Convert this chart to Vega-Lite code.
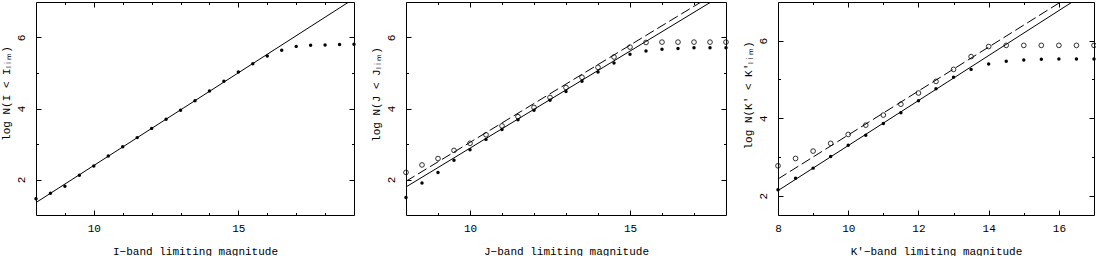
{
  "$schema": "https://vega.github.io/schema/vega-lite/v6.json",
  "padding": {"left": 0, "top": 1, "right": 0, "bottom": 0},
  "background": "white",
  "config": {
    "view": {"stroke": "black", "strokeWidth": 1},
    "axis": {"domain": false, "grid": false, "labelFont": "Liberation Mono", "titleFont": "Liberation Mono", "labelFontSize": 11, "titleFontSize": 11, "titleFontWeight": "normal", "labelColor": "black", "titleColor": "black", "tickColor": "black", "labelOverlap": false, "labelFlush": false}
  },
  "datasets": {
    "pts": [
      {"band": "I", "kind": "filled", "mag": 8, "logN": 1.46},
      {"band": "I", "kind": "filled", "mag": 8.5, "logN": 1.61},
      {"band": "I", "kind": "filled", "mag": 9, "logN": 1.81},
      {"band": "I", "kind": "filled", "mag": 9.5, "logN": 2.12},
      {"band": "I", "kind": "filled", "mag": 10, "logN": 2.38},
      {"band": "I", "kind": "filled", "mag": 10.5, "logN": 2.66},
      {"band": "I", "kind": "filled", "mag": 11, "logN": 2.92},
      {"band": "I", "kind": "filled", "mag": 11.5, "logN": 3.18},
      {"band": "I", "kind": "filled", "mag": 12, "logN": 3.44},
      {"band": "I", "kind": "filled", "mag": 12.5, "logN": 3.70},
      {"band": "I", "kind": "filled", "mag": 13, "logN": 3.95},
      {"band": "I", "kind": "filled", "mag": 13.5, "logN": 4.22},
      {"band": "I", "kind": "filled", "mag": 14, "logN": 4.49},
      {"band": "I", "kind": "filled", "mag": 14.5, "logN": 4.77},
      {"band": "I", "kind": "filled", "mag": 15, "logN": 5.03},
      {"band": "I", "kind": "filled", "mag": 15.5, "logN": 5.26},
      {"band": "I", "kind": "filled", "mag": 16, "logN": 5.48},
      {"band": "I", "kind": "filled", "mag": 16.5, "logN": 5.64},
      {"band": "I", "kind": "filled", "mag": 17, "logN": 5.75},
      {"band": "I", "kind": "filled", "mag": 17.5, "logN": 5.78},
      {"band": "I", "kind": "filled", "mag": 18, "logN": 5.79},
      {"band": "I", "kind": "filled", "mag": 18.5, "logN": 5.80},
      {"band": "I", "kind": "filled", "mag": 19, "logN": 5.81},
      {"band": "J", "kind": "filled", "mag": 8, "logN": 1.49},
      {"band": "J", "kind": "filled", "mag": 8.5, "logN": 1.90},
      {"band": "J", "kind": "filled", "mag": 9, "logN": 2.20},
      {"band": "J", "kind": "filled", "mag": 9.5, "logN": 2.54},
      {"band": "J", "kind": "filled", "mag": 10, "logN": 2.84},
      {"band": "J", "kind": "filled", "mag": 10.5, "logN": 3.13},
      {"band": "J", "kind": "filled", "mag": 11, "logN": 3.41},
      {"band": "J", "kind": "filled", "mag": 11.5, "logN": 3.68},
      {"band": "J", "kind": "filled", "mag": 12, "logN": 3.95},
      {"band": "J", "kind": "filled", "mag": 12.5, "logN": 4.23},
      {"band": "J", "kind": "filled", "mag": 13, "logN": 4.48},
      {"band": "J", "kind": "filled", "mag": 13.5, "logN": 4.77},
      {"band": "J", "kind": "filled", "mag": 14, "logN": 5.03},
      {"band": "J", "kind": "filled", "mag": 14.5, "logN": 5.28},
      {"band": "J", "kind": "filled", "mag": 15, "logN": 5.53},
      {"band": "J", "kind": "filled", "mag": 15.5, "logN": 5.62},
      {"band": "J", "kind": "filled", "mag": 16, "logN": 5.67},
      {"band": "J", "kind": "filled", "mag": 16.5, "logN": 5.69},
      {"band": "J", "kind": "filled", "mag": 17, "logN": 5.71},
      {"band": "J", "kind": "filled", "mag": 17.5, "logN": 5.71},
      {"band": "J", "kind": "filled", "mag": 18, "logN": 5.71},
      {"band": "J", "kind": "open", "mag": 8, "logN": 2.20},
      {"band": "J", "kind": "open", "mag": 8.5, "logN": 2.41},
      {"band": "J", "kind": "open", "mag": 9, "logN": 2.59},
      {"band": "J", "kind": "open", "mag": 9.5, "logN": 2.82},
      {"band": "J", "kind": "open", "mag": 10, "logN": 3.02},
      {"band": "J", "kind": "open", "mag": 10.5, "logN": 3.26},
      {"band": "J", "kind": "open", "mag": 11, "logN": 3.51},
      {"band": "J", "kind": "open", "mag": 11.5, "logN": 3.77},
      {"band": "J", "kind": "open", "mag": 12, "logN": 4.03},
      {"band": "J", "kind": "open", "mag": 12.5, "logN": 4.31},
      {"band": "J", "kind": "open", "mag": 13, "logN": 4.59},
      {"band": "J", "kind": "open", "mag": 13.5, "logN": 4.88},
      {"band": "J", "kind": "open", "mag": 14, "logN": 5.16},
      {"band": "J", "kind": "open", "mag": 14.5, "logN": 5.45},
      {"band": "J", "kind": "open", "mag": 15, "logN": 5.73},
      {"band": "J", "kind": "open", "mag": 15.5, "logN": 5.86},
      {"band": "J", "kind": "open", "mag": 16, "logN": 5.87},
      {"band": "J", "kind": "open", "mag": 16.5, "logN": 5.87},
      {"band": "J", "kind": "open", "mag": 17, "logN": 5.87},
      {"band": "J", "kind": "open", "mag": 17.5, "logN": 5.87},
      {"band": "J", "kind": "open", "mag": 18, "logN": 5.87},
      {"band": "K", "kind": "filled", "mag": 8, "logN": 2.15},
      {"band": "K", "kind": "filled", "mag": 8.5, "logN": 2.45},
      {"band": "K", "kind": "filled", "mag": 9, "logN": 2.71},
      {"band": "K", "kind": "filled", "mag": 9.5, "logN": 3.01},
      {"band": "K", "kind": "filled", "mag": 10, "logN": 3.30},
      {"band": "K", "kind": "filled", "mag": 10.5, "logN": 3.56},
      {"band": "K", "kind": "filled", "mag": 11, "logN": 3.86},
      {"band": "K", "kind": "filled", "mag": 11.5, "logN": 4.14},
      {"band": "K", "kind": "filled", "mag": 12, "logN": 4.45},
      {"band": "K", "kind": "filled", "mag": 12.5, "logN": 4.76},
      {"band": "K", "kind": "filled", "mag": 13, "logN": 5.06},
      {"band": "K", "kind": "filled", "mag": 13.5, "logN": 5.26},
      {"band": "K", "kind": "filled", "mag": 14, "logN": 5.40},
      {"band": "K", "kind": "filled", "mag": 14.5, "logN": 5.47},
      {"band": "K", "kind": "filled", "mag": 15, "logN": 5.50},
      {"band": "K", "kind": "filled", "mag": 15.5, "logN": 5.52},
      {"band": "K", "kind": "filled", "mag": 16, "logN": 5.53},
      {"band": "K", "kind": "filled", "mag": 16.5, "logN": 5.53},
      {"band": "K", "kind": "filled", "mag": 17, "logN": 5.53},
      {"band": "K", "kind": "open", "mag": 8, "logN": 2.77},
      {"band": "K", "kind": "open", "mag": 8.5, "logN": 2.96},
      {"band": "K", "kind": "open", "mag": 9, "logN": 3.15},
      {"band": "K", "kind": "open", "mag": 9.5, "logN": 3.35},
      {"band": "K", "kind": "open", "mag": 10, "logN": 3.58},
      {"band": "K", "kind": "open", "mag": 10.5, "logN": 3.82},
      {"band": "K", "kind": "open", "mag": 11, "logN": 4.08},
      {"band": "K", "kind": "open", "mag": 11.5, "logN": 4.36},
      {"band": "K", "kind": "open", "mag": 12, "logN": 4.65},
      {"band": "K", "kind": "open", "mag": 12.5, "logN": 4.95},
      {"band": "K", "kind": "open", "mag": 13, "logN": 5.26},
      {"band": "K", "kind": "open", "mag": 13.5, "logN": 5.59},
      {"band": "K", "kind": "open", "mag": 14, "logN": 5.85},
      {"band": "K", "kind": "open", "mag": 14.5, "logN": 5.88},
      {"band": "K", "kind": "open", "mag": 15, "logN": 5.88},
      {"band": "K", "kind": "open", "mag": 15.5, "logN": 5.88},
      {"band": "K", "kind": "open", "mag": 16, "logN": 5.88},
      {"band": "K", "kind": "open", "mag": 16.5, "logN": 5.88},
      {"band": "K", "kind": "open", "mag": 17, "logN": 5.88}
    ],
    "fits": [
      {"band": "I", "style": "solid", "mag": 8, "logN": 1.35},
      {"band": "I", "style": "solid", "mag": 18.82, "logN": 7},
      {"band": "J", "style": "solid", "mag": 8, "logN": 1.79},
      {"band": "J", "style": "solid", "mag": 17.53, "logN": 7},
      {"band": "J", "style": "dashed", "mag": 8, "logN": 1.95},
      {"band": "J", "style": "dashed", "mag": 17.22, "logN": 7},
      {"band": "K", "style": "solid", "mag": 8, "logN": 2.13},
      {"band": "K", "style": "solid", "mag": 16.38, "logN": 7},
      {"band": "K", "style": "dashed", "mag": 8, "logN": 2.43},
      {"band": "K", "style": "dashed", "mag": 16.05, "logN": 7}
    ]
  },
  "hconcat": [
    {
      "width": 318, "height": 213,
      "layer": [
        {
          "data": {"name": "pts"},
          "transform": [{"filter": "datum.band === 'I'"}],
          "mark": {"type": "circle", "size": 12, "color": "black", "opacity": 1},
          "encoding": {
            "x": {"field": "mag", "type": "quantitative", "scale": {"domain": [8, 19], "nice": false, "zero": false},
              "axis": {"orient": "bottom", "values": [9, 10, 11, 12, 13, 14, 15, 16, 17, 18], "labelExpr": "datum.value % 5 === 0 ? datum.label : ''", "tickSize": {"condition": {"test": "datum.value % 5 === 0", "value": -5}, "value": -2.5}, "labelPadding": 12, "title": "I\u2212band limiting magnitude", "titlePadding": 10}},
            "y": {"field": "logN", "type": "quantitative", "scale": {"domain": [1, 7], "nice": false, "zero": false},
              "axis": {"orient": "left", "values": [2, 3, 4, 5, 6], "labelExpr": "datum.value % 2 === 0 ? datum.label : ''", "tickSize": {"condition": {"test": "datum.value % 2 === 0", "value": -5}, "value": -2.5}, "labelAngle": -90, "labelAlign": "center", "labelBaseline": "bottom", "labelPadding": 15, "title": "log N(I < I\u2097\u1d62\u2098)", "titlePadding": 1, "titleY": 91}}
          }
        },
        {
          "data": {"name": "fits"},
          "transform": [{"filter": "datum.band === 'I'"}],
          "mark": {"type": "line", "color": "black", "strokeWidth": 1, "clip": true},
          "encoding": {
            "x": {"field": "mag", "type": "quantitative", "axis": {"orient": "top", "values": [9, 10, 11, 12, 13, 14, 15, 16, 17, 18], "labels": false, "title": null, "tickSize": {"condition": {"test": "datum.value % 5 === 0", "value": -5}, "value": -2.5}}},
            "y": {"field": "logN", "type": "quantitative", "axis": {"orient": "right", "values": [2, 3, 4, 5, 6], "labels": false, "title": null, "tickSize": {"condition": {"test": "datum.value % 2 === 0", "value": -5}, "value": -2.5}}}
          }
        }
      ],
      "resolve": {"axis": {"x": "independent", "y": "independent"}}
    },
    {
      "width": 320, "height": 213,
      "layer": [
        {
          "data": {"name": "pts"},
          "transform": [{"filter": "datum.band === 'J' && datum.kind === 'filled'"}],
          "mark": {"type": "circle", "size": 12, "color": "black", "opacity": 1},
          "encoding": {
            "x": {"field": "mag", "type": "quantitative", "scale": {"domain": [8, 18], "nice": false, "zero": false},
              "axis": {"orient": "bottom", "values": [9, 10, 11, 12, 13, 14, 15, 16, 17], "labelExpr": "datum.value % 5 === 0 ? datum.label : ''", "tickSize": {"condition": {"test": "datum.value % 5 === 0", "value": -5}, "value": -2.5}, "labelPadding": 12, "title": "J\u2212band limiting magnitude", "titlePadding": 10}},
            "y": {"field": "logN", "type": "quantitative", "scale": {"domain": [1, 7], "nice": false, "zero": false},
              "axis": {"orient": "left", "values": [2, 3, 4, 5, 6], "labelExpr": "datum.value % 2 === 0 ? datum.label : ''", "tickSize": {"condition": {"test": "datum.value % 2 === 0", "value": -5}, "value": -2.5}, "labelAngle": -90, "labelAlign": "center", "labelBaseline": "bottom", "labelPadding": 15, "title": "log N(J < J\u2097\u1d62\u2098)", "titlePadding": 1, "titleY": 92}}
          }
        },
        {
          "data": {"name": "pts"},
          "transform": [{"filter": "datum.band === 'J' && datum.kind === 'open'"}],
          "mark": {"type": "point", "shape": "circle", "size": 22, "filled": false, "color": "black", "strokeWidth": 0.8, "opacity": 1},
          "encoding": {
            "x": {"field": "mag", "type": "quantitative", "axis": null},
            "y": {"field": "logN", "type": "quantitative", "axis": null}
          }
        },
        {
          "data": {"name": "fits"},
          "transform": [{"filter": "datum.band === 'J' && datum.style === 'solid'"}],
          "mark": {"type": "line", "color": "black", "strokeWidth": 1, "clip": true},
          "encoding": {
            "x": {"field": "mag", "type": "quantitative", "axis": {"orient": "top", "values": [9, 10, 11, 12, 13, 14, 15, 16, 17], "labels": false, "title": null, "tickSize": {"condition": {"test": "datum.value % 5 === 0", "value": -5}, "value": -2.5}}},
            "y": {"field": "logN", "type": "quantitative", "axis": {"orient": "right", "values": [2, 3, 4, 5, 6], "labels": false, "title": null, "tickSize": {"condition": {"test": "datum.value % 2 === 0", "value": -5}, "value": -2.5}}}
          }
        },
        {
          "data": {"name": "fits"},
          "transform": [{"filter": "datum.band === 'J' && datum.style === 'dashed'"}],
          "mark": {"type": "line", "color": "black", "strokeWidth": 1, "strokeDash": [10, 4], "clip": true},
          "encoding": {
            "x": {"field": "mag", "type": "quantitative", "axis": null},
            "y": {"field": "logN", "type": "quantitative", "axis": null}
          }
        }
      ],
      "resolve": {"axis": {"x": "independent", "y": "independent"}}
    },
    {
      "width": 316, "height": 213,
      "layer": [
        {
          "data": {"name": "pts"},
          "transform": [{"filter": "datum.band === 'K' && datum.kind === 'filled'"}],
          "mark": {"type": "circle", "size": 12, "color": "black", "opacity": 1},
          "encoding": {
            "x": {"field": "mag", "type": "quantitative", "scale": {"domain": [8, 17], "nice": false, "zero": false},
              "axis": {"orient": "bottom", "values": [8, 9, 10, 11, 12, 13, 14, 15, 16], "labelExpr": "datum.value % 2 === 0 ? datum.label : ''", "tickSize": {"condition": {"test": "datum.value % 2 === 0", "value": -5}, "value": -2.5}, "labelPadding": 12, "title": "K\u2032\u2212band limiting magnitude", "titlePadding": 10}},
            "y": {"field": "logN", "type": "quantitative", "scale": {"domain": [1.5, 7], "nice": false, "zero": false},
              "axis": {"orient": "left", "values": [2, 3, 4, 5, 6], "labelExpr": "datum.value % 2 === 0 ? datum.label : ''", "tickSize": {"condition": {"test": "datum.value % 2 === 0", "value": -5}, "value": -2.5}, "labelAngle": -90, "labelAlign": "center", "labelBaseline": "bottom", "labelPadding": 15, "title": "log N(K\u2032 < K\u2032\u2097\u1d62\u2098)", "titlePadding": 1, "titleY": 93}}
          }
        },
        {
          "data": {"name": "pts"},
          "transform": [{"filter": "datum.band === 'K' && datum.kind === 'open'"}],
          "mark": {"type": "point", "shape": "circle", "size": 22, "filled": false, "color": "black", "strokeWidth": 0.8, "opacity": 1},
          "encoding": {
            "x": {"field": "mag", "type": "quantitative", "axis": null},
            "y": {"field": "logN", "type": "quantitative", "axis": null}
          }
        },
        {
          "data": {"name": "fits"},
          "transform": [{"filter": "datum.band === 'K' && datum.style === 'solid'"}],
          "mark": {"type": "line", "color": "black", "strokeWidth": 1, "clip": true},
          "encoding": {
            "x": {"field": "mag", "type": "quantitative", "axis": {"orient": "top", "values": [9, 10, 11, 12, 13, 14, 15, 16], "labels": false, "title": null, "tickSize": {"condition": {"test": "datum.value % 2 === 0", "value": -5}, "value": -2.5}}},
            "y": {"field": "logN", "type": "quantitative", "axis": {"orient": "right", "values": [2, 3, 4, 5, 6], "labels": false, "title": null, "tickSize": {"condition": {"test": "datum.value % 2 === 0", "value": -5}, "value": -2.5}}}
          }
        },
        {
          "data": {"name": "fits"},
          "transform": [{"filter": "datum.band === 'K' && datum.style === 'dashed'"}],
          "mark": {"type": "line", "color": "black", "strokeWidth": 1, "strokeDash": [10, 4], "clip": true},
          "encoding": {
            "x": {"field": "mag", "type": "quantitative", "axis": null},
            "y": {"field": "logN", "type": "quantitative", "axis": null}
          }
        }
      ],
      "resolve": {"axis": {"x": "independent", "y": "independent"}}
    }
  ],
  "spacing": 52,
  "bounds": "flush"
}
